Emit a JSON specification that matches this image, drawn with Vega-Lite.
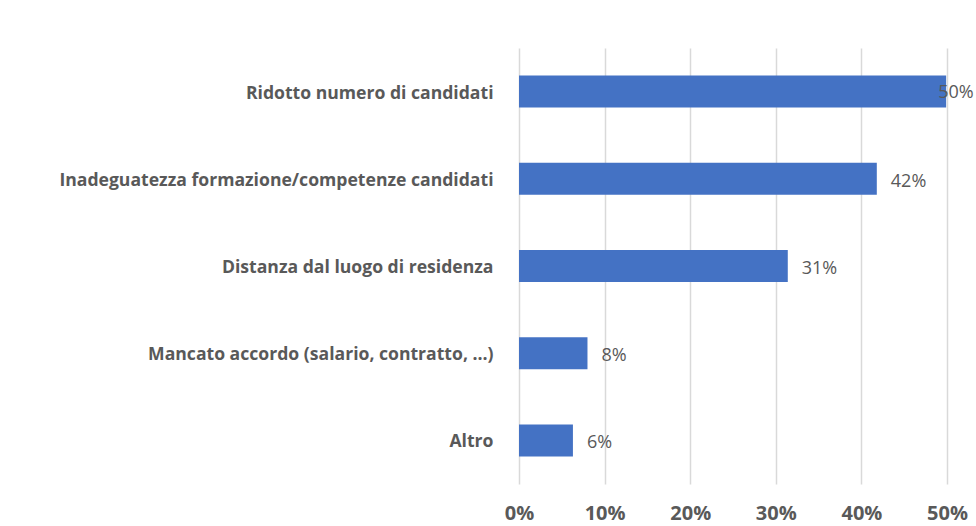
{
  "$schema": "https://vega.github.io/schema/vega-lite/v6.json",
  "width": 428,
  "height": 436,
  "autosize": {"type": "none"},
  "padding": {"left": 519, "top": 48, "right": 29, "bottom": 42},
  "background": "white",
  "config": {
    "view": {"stroke": null},
    "font": "Open Sans"
  },
  "data": {
    "values": [
      {"motivo": "Ridotto numero di candidati", "valore": 0.499},
      {"motivo": "Inadeguatezza formazione/competenze candidati ", "valore": 0.418},
      {"motivo": "Distanza dal luogo di residenza", "valore": 0.314},
      {"motivo": "Mancato accordo (salario, contratto, …)", "valore": 0.08},
      {"motivo": "Altro", "valore": 0.063}
    ]
  },
  "encoding": {
    "y": {
      "field": "motivo",
      "type": "nominal",
      "sort": null,
      "scale": {"paddingInner": 0.633, "paddingOuter": 0.3165},
      "axis": {
        "title": null,
        "ticks": false,
        "domain": false,
        "labelFont": "Open Sans",
        "labelFontWeight": "bold",
        "labelFontSize": 17.6,
        "labelColor": "#595959",
        "labelPadding": 26,
        "labelOffset": 2,
        "labelLimit": 600
      }
    },
    "x": {
      "field": "valore",
      "type": "quantitative",
      "scale": {"domain": [0, 0.5], "nice": false},
      "axis": {
        "title": null,
        "format": ".0%",
        "values": [0, 0.1, 0.2, 0.3, 0.4, 0.5],
        "ticks": false,
        "domain": false,
        "grid": true,
        "gridColor": "#D9D9D9",
        "gridWidth": 1.5,
        "labelFlush": false,
        "labelFont": "Open Sans",
        "labelFontWeight": "bold",
        "labelFontSize": 20,
        "labelColor": "#595959",
        "labelPadding": 19
      }
    }
  },
  "layer": [
    {"mark": {"type": "bar", "color": "#4472C4"}},
    {
      "transform": [{"filter": "datum.valore < 0.45"}],
      "mark": {"type": "text", "align": "left", "baseline": "middle", "dx": 14, "dy": 3, "fontSize": 18, "color": "#595959", "font": "Open Sans"},
      "encoding": {"text": {"field": "valore", "type": "quantitative", "format": ".0%"}}
    },
    {
      "transform": [{"filter": "datum.valore >= 0.45"}],
      "mark": {"type": "text", "align": "left", "baseline": "middle", "dx": -8, "dy": 1, "fontSize": 18, "color": "#595959", "font": "Open Sans"},
      "encoding": {"text": {"field": "valore", "type": "quantitative", "format": ".0%"}}
    }
  ]
}
